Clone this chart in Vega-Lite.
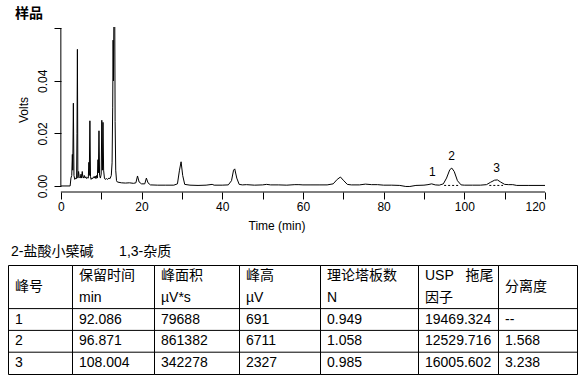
{
"$schema": "https://vega.github.io/schema/vega-lite/v6.json",
"padding": {"left": 7, "top": 7, "right": 4, "bottom": 4},
"config": {
  "font": "Liberation Sans, Noto Sans CJK SC",
  "view": {"stroke": null},
  "text": {"color": "black", "font": "Liberation Sans, Noto Sans CJK SC"},
  "title": {"color": "black", "font": "Liberation Sans, Noto Sans CJK SC"},
  "axis": {"labelColor": "black", "titleColor": "black", "tickColor": "black", "domainColor": "black", "labelFont": "Liberation Sans", "titleFont": "Liberation Sans", "titleFontWeight": "normal", "grid": false}
},
"datasets": {
  "trace": [
    {"t":0,"v":0.0},{"t":2.3,"v":0.0},{"t":2.5,"v":0.003},{"t":2.7,"v":0.004},{"t":2.85,"v":0.012},{"t":2.95,"v":0.006},{"t":3.1,"v":0.0315},{"t":3.25,"v":0.004},{"t":3.45,"v":0.0025},{"t":3.7,"v":0.003},{"t":3.9,"v":0.0028},{"t":4.0,"v":0.02},{"t":4.1,"v":0.052},{"t":4.22,"v":0.003},{"t":4.4,"v":0.0055},{"t":4.55,"v":0.0035},{"t":4.8,"v":0.003},{"t":5.0,"v":0.0045},{"t":5.15,"v":0.003},{"t":5.3,"v":0.0055},{"t":5.45,"v":0.0035},{"t":5.6,"v":0.003},{"t":5.8,"v":0.004},{"t":6.0,"v":0.003},{"t":6.2,"v":0.0035},{"t":6.4,"v":0.0028},{"t":6.6,"v":0.0032},{"t":6.8,"v":0.003},{"t":6.95,"v":0.009},{"t":7.05,"v":0.004},{"t":7.2,"v":0.0248},{"t":7.35,"v":0.0035},{"t":7.5,"v":0.0025},{"t":7.7,"v":0.003},{"t":7.9,"v":0.0028},{"t":8.1,"v":0.0035},{"t":8.3,"v":0.003},{"t":8.5,"v":0.0038},{"t":8.7,"v":0.0028},{"t":8.9,"v":0.004},{"t":9.05,"v":0.003},{"t":9.2,"v":0.01},{"t":9.3,"v":0.005},{"t":9.45,"v":0.021},{"t":9.6,"v":0.004},{"t":9.8,"v":0.003},{"t":10.0,"v":0.0045},{"t":10.15,"v":0.025},{"t":10.3,"v":0.006},{"t":10.45,"v":0.0242},{"t":10.6,"v":0.006},{"t":10.8,"v":0.003},{"t":11.0,"v":0.0025},{"t":11.3,"v":0.0028},{"t":11.6,"v":0.0025},{"t":11.9,"v":0.003},{"t":12.2,"v":0.0028},{"t":12.5,"v":0.004},{"t":12.7,"v":0.0088},{"t":12.85,"v":0.03},{"t":12.95,"v":0.0555},{"t":13.05,"v":0.04},{"t":13.2,"v":0.08},{"t":13.35,"v":0.07},{"t":13.45,"v":0.0245},{"t":13.6,"v":0.006},{"t":13.8,"v":0.002},{"t":14.0,"v":0.0015},{"t":15,"v":0.0012},{"t":16,"v":0.0011},{"t":17,"v":0.0012},{"t":18,"v":0.001},{"t":18.6,"v":0.0012},{"t":19.0,"v":0.0038},{"t":19.4,"v":0.0015},{"t":20.0,"v":0.0008},{"t":20.8,"v":0.0008},{"t":21.2,"v":0.003},{"t":21.6,"v":0.0012},{"t":22.2,"v":0.0004},{"t":24,"v":0.0003},{"t":26,"v":0.0003},{"t":28,"v":0.0003},{"t":28.9,"v":0.0008},{"t":29.4,"v":0.006},{"t":29.8,"v":0.0092},{"t":30.2,"v":0.004},{"t":30.7,"v":0.0006},{"t":32,"v":0.0003},{"t":34,"v":0.0002},{"t":36,"v":0.0003},{"t":37.5,"v":0.0006},{"t":38,"v":0.0003},{"t":40,"v":0.0003},{"t":41.5,"v":0.0004},{"t":42.3,"v":0.002},{"t":42.8,"v":0.006},{"t":43.1,"v":0.0065},{"t":43.6,"v":0.003},{"t":44.2,"v":0.0006},{"t":45,"v":0.0004},{"t":46,"v":0.0005},{"t":48,"v":0.0003},{"t":50,"v":0.0004},{"t":51,"v":0.0006},{"t":52,"v":0.0004},{"t":54,"v":0.0004},{"t":56,"v":0.0003},{"t":58,"v":0.0005},{"t":59,"v":0.0005},{"t":60,"v":0.0004},{"t":62,"v":0.0004},{"t":64,"v":0.0004},{"t":66,"v":0.0004},{"t":67.5,"v":0.0008},{"t":68.5,"v":0.0025},{"t":69.3,"v":0.0034},{"t":70,"v":0.0022},{"t":71,"v":0.0006},{"t":72,"v":0.0004},{"t":74,"v":0.0004},{"t":75.5,"v":0.0007},{"t":77,"v":0.0005},{"t":78.5,"v":0.0005},{"t":80,"v":0.0003},{"t":82,"v":0.0003},{"t":84,"v":0.0002},{"t":85.5,"v":-0.0002},{"t":86.5,"v":-0.0002},{"t":88,"v":0.0002},{"t":90,"v":0.0003},{"t":91,"v":0.0005},{"t":91.9,"v":0.0008},{"t":92.8,"v":0.0004},{"t":93.8,"v":0.0003},{"t":94.8,"v":0.0008},{"t":95.6,"v":0.003},{"t":96.4,"v":0.0062},{"t":96.9,"v":0.0068},{"t":97.5,"v":0.0055},{"t":98.3,"v":0.002},{"t":99.2,"v":0.0004},{"t":100,"v":0.0003},{"t":102,"v":0.0003},{"t":104,"v":0.0003},{"t":105.5,"v":0.0005},{"t":106.5,"v":0.0014},{"t":107.5,"v":0.0022},{"t":108.2,"v":0.0023},{"t":109,"v":0.0015},{"t":110,"v":0.0006},{"t":111,"v":0.0005},{"t":112,"v":0.0005},{"t":113,"v":0.0002},{"t":116,"v":0.0002},{"t":120,"v":0.0002}
  ],
  "peaks": [
    {"t": 92.086, "v": 0.0007, "n": "1"},
    {"t": 96.871, "v": 0.0067, "n": "2"},
    {"t": 108.004, "v": 0.0023, "n": "3"}
  ],
  "base": [
    {"t1": 95.0, "t2": 98.7},
    {"t1": 106.2, "t2": 109.6}
  ],
  "cells": [
    {"c": 1, "r": "h1", "s": "峰号", "m": 1},
    {"c": 1, "r": "r1", "s": "1"}, {"c": 1, "r": "r2", "s": "2"}, {"c": 1, "r": "r3", "s": "3"},
    {"c": 2, "r": "h1", "s": "保留时间"}, {"c": 2, "r": "h2", "s": "min"},
    {"c": 2, "r": "r1", "s": "92.086"}, {"c": 2, "r": "r2", "s": "96.871"}, {"c": 2, "r": "r3", "s": "108.004"},
    {"c": 3, "r": "h1", "s": "峰面积"}, {"c": 3, "r": "h2", "s": "µV*s"},
    {"c": 3, "r": "r1", "s": "79688"}, {"c": 3, "r": "r2", "s": "861382"}, {"c": 3, "r": "r3", "s": "342278"},
    {"c": 4, "r": "h1", "s": "峰高"}, {"c": 4, "r": "h2", "s": "µV"},
    {"c": 4, "r": "r1", "s": "691"}, {"c": 4, "r": "r2", "s": "6711"}, {"c": 4, "r": "r3", "s": "2327"},
    {"c": 5, "r": "h1", "s": "理论塔板数"}, {"c": 5, "r": "h2", "s": "N"},
    {"c": 5, "r": "r1", "s": "0.949"}, {"c": 5, "r": "r2", "s": "1.058"}, {"c": 5, "r": "r3", "s": "0.985"},
    {"c": 6, "r": "h1", "s": "USP\u00a0\u00a0\u00a0拖尾"}, {"c": 6, "r": "h2", "s": "因子"},
    {"c": 6, "r": "r1", "s": "19469.324"}, {"c": 6, "r": "r2", "s": "12529.716"}, {"c": 6, "r": "r3", "s": "16005.602"},
    {"c": 7, "r": "h1", "s": "分离度", "m": 1},
    {"c": 7, "r": "r1", "s": "--"}, {"c": 7, "r": "r2", "s": "1.568"}, {"c": 7, "r": "r3", "s": "3.238"}
  ]
},
"vconcat": [
  {
    "width": 537, "height": 165,
    "title": {"text": "样品", "anchor": "start", "frame": "group", "dx": 7, "fontSize": 14, "fontWeight": "bold", "offset": 6},
    "layer": [
      {
        "data": {"name": "trace"},
        "mark": {"type": "line", "color": "black", "strokeWidth": 1, "clip": true},
        "encoding": {
          "x": {"field": "t", "type": "quantitative", "scale": {"domain": [-13.1, 120], "nice": false, "zero": false},
                "axis": {"values": [0,10,20,30,40,50,60,70,80,90,100,110,120], "labelExpr": "datum.value % 20 === 0 ? datum.label : ''", "format": "d", "domain": false, "tickSize": 7, "labelPadding": 2, "labelFontSize": 12, "title": "Time (min)", "titleFontSize": 12, "titlePadding": 8}},
          "y": {"field": "v", "type": "quantitative", "scale": {"domain": [-0.0023, 0.0605], "nice": false, "zero": false},
                "axis": {"values": [0,0.01,0.02,0.03,0.04,0.05,0.06], "format": ".2f", "labelExpr": "round(datum.value*100) % 2 === 0 && datum.value < 0.05 ? datum.label : ''", "offset": -53, "domain": false, "tickSize": 7, "labelAngle": 270, "labelAlign": "center", "labelBaseline": "bottom", "labelPadding": 5, "labelFontSize": 12, "title": "Volts", "titleFontSize": 12, "titlePadding": 6}}
        }
      },
      {
        "data": {"values": [{}]},
        "mark": {"type": "rule", "color": "black", "strokeWidth": 1},
        "encoding": {"x": {"datum": 0, "type": "quantitative"}, "x2": {"datum": 120}, "y": {"datum": -0.0023, "type": "quantitative"}}
      },
      {
        "data": {"values": [{}]},
        "mark": {"type": "rule", "color": "black", "strokeWidth": 1},
        "encoding": {"x": {"datum": 0, "type": "quantitative"}, "y": {"datum": 0, "type": "quantitative"}, "y2": {"datum": 0.06}}
      },
      {
        "data": {"name": "base"},
        "mark": {"type": "rule", "color": "black", "strokeWidth": 1, "strokeDash": [2, 2]},
        "encoding": {"x": {"field": "t1", "type": "quantitative"}, "x2": {"field": "t2"}, "y": {"datum": 0.0002, "type": "quantitative"}}
      },
      {
        "data": {"name": "peaks"},
        "mark": {"type": "text", "fontSize": 12, "baseline": "middle", "dy": -12, "color": "black"},
        "encoding": {"x": {"field": "t", "type": "quantitative"}, "y": {"field": "v", "type": "quantitative"}, "text": {"field": "n"}}
      }
    ]
  },
  {
    "title": {"text": "2-盐酸小檗碱　\u00a0\u00a0\u00a01,3-杂质", "anchor": "start", "frame": "group", "dx": 3, "fontSize": 14, "fontWeight": "normal", "offset": 6},
    "bounds": "flush",
    "spacing": 0,
    "hconcat": [
      {"width": 64, "height": 109, "view": {"stroke": "black"}, "data": {"name": "cells"}, "transform": [{"filter": "datum.c === 1"}],
       "layer": [
        {"transform": [{"filter": "datum.m !== 1"}], "mark": {"type": "text", "align": "left", "baseline": "middle", "dx": 7, "fontSize": 14},
         "encoding": {"x": {"field": "c", "type": "nominal", "axis": null, "scale": {"type": "band", "paddingInner": 0, "paddingOuter": 0}, "bandPosition": 0},
                      "y": {"field": "r", "type": "nominal", "axis": null, "scale": {"type": "band", "domain": ["h1","h2","r1","r2","r3"], "paddingInner": 0, "paddingOuter": 0}}, "text": {"field": "s"}}},
        {"transform": [{"filter": "datum.m === 1"}], "mark": {"type": "text", "align": "left", "baseline": "middle", "dx": 7, "fontSize": 14},
         "encoding": {"x": {"field": "c", "type": "nominal", "axis": null, "scale": {"type": "band", "paddingInner": 0, "paddingOuter": 0}, "bandPosition": 0},
                      "y": {"field": "r", "type": "nominal", "axis": null, "bandPosition": 1, "scale": {"type": "band", "domain": ["h1","h2","r1","r2","r3"], "paddingInner": 0, "paddingOuter": 0}}, "text": {"field": "s"}}},
        {"transform": [{"filter": "datum.r === 'r1' || datum.r === 'r2' || datum.r === 'r3'"}], "mark": {"type": "rule", "color": "black", "strokeWidth": 1},
         "encoding": {"y": {"field": "r", "type": "nominal", "axis": null, "bandPosition": 0, "scale": {"type": "band", "domain": ["h1","h2","r1","r2","r3"], "paddingInner": 0, "paddingOuter": 0}}}}
       ]},
      {"width": 82, "height": 109, "view": {"stroke": "black"}, "data": {"name": "cells"}, "transform": [{"filter": "datum.c === 2"}],
       "layer": [
        {"transform": [{"filter": "datum.m !== 1"}], "mark": {"type": "text", "align": "left", "baseline": "middle", "dx": 7, "fontSize": 14},
         "encoding": {"x": {"field": "c", "type": "nominal", "axis": null, "scale": {"type": "band", "paddingInner": 0, "paddingOuter": 0}, "bandPosition": 0},
                      "y": {"field": "r", "type": "nominal", "axis": null, "scale": {"type": "band", "domain": ["h1","h2","r1","r2","r3"], "paddingInner": 0, "paddingOuter": 0}}, "text": {"field": "s"}}},
        {"transform": [{"filter": "datum.r === 'r1' || datum.r === 'r2' || datum.r === 'r3'"}], "mark": {"type": "rule", "color": "black", "strokeWidth": 1},
         "encoding": {"y": {"field": "r", "type": "nominal", "axis": null, "bandPosition": 0, "scale": {"type": "band", "domain": ["h1","h2","r1","r2","r3"], "paddingInner": 0, "paddingOuter": 0}}}}
       ]},
      {"width": 85, "height": 109, "view": {"stroke": "black"}, "data": {"name": "cells"}, "transform": [{"filter": "datum.c === 3"}],
       "layer": [
        {"transform": [{"filter": "datum.m !== 1"}], "mark": {"type": "text", "align": "left", "baseline": "middle", "dx": 7, "fontSize": 14},
         "encoding": {"x": {"field": "c", "type": "nominal", "axis": null, "scale": {"type": "band", "paddingInner": 0, "paddingOuter": 0}, "bandPosition": 0},
                      "y": {"field": "r", "type": "nominal", "axis": null, "scale": {"type": "band", "domain": ["h1","h2","r1","r2","r3"], "paddingInner": 0, "paddingOuter": 0}}, "text": {"field": "s"}}},
        {"transform": [{"filter": "datum.r === 'r1' || datum.r === 'r2' || datum.r === 'r3'"}], "mark": {"type": "rule", "color": "black", "strokeWidth": 1},
         "encoding": {"y": {"field": "r", "type": "nominal", "axis": null, "bandPosition": 0, "scale": {"type": "band", "domain": ["h1","h2","r1","r2","r3"], "paddingInner": 0, "paddingOuter": 0}}}}
       ]},
      {"width": 81, "height": 109, "view": {"stroke": "black"}, "data": {"name": "cells"}, "transform": [{"filter": "datum.c === 4"}],
       "layer": [
        {"transform": [{"filter": "datum.m !== 1"}], "mark": {"type": "text", "align": "left", "baseline": "middle", "dx": 7, "fontSize": 14},
         "encoding": {"x": {"field": "c", "type": "nominal", "axis": null, "scale": {"type": "band", "paddingInner": 0, "paddingOuter": 0}, "bandPosition": 0},
                      "y": {"field": "r", "type": "nominal", "axis": null, "scale": {"type": "band", "domain": ["h1","h2","r1","r2","r3"], "paddingInner": 0, "paddingOuter": 0}}, "text": {"field": "s"}}},
        {"transform": [{"filter": "datum.r === 'r1' || datum.r === 'r2' || datum.r === 'r3'"}], "mark": {"type": "rule", "color": "black", "strokeWidth": 1},
         "encoding": {"y": {"field": "r", "type": "nominal", "axis": null, "bandPosition": 0, "scale": {"type": "band", "domain": ["h1","h2","r1","r2","r3"], "paddingInner": 0, "paddingOuter": 0}}}}
       ]},
      {"width": 98, "height": 109, "view": {"stroke": "black"}, "data": {"name": "cells"}, "transform": [{"filter": "datum.c === 5"}],
       "layer": [
        {"transform": [{"filter": "datum.m !== 1"}], "mark": {"type": "text", "align": "left", "baseline": "middle", "dx": 7, "fontSize": 14},
         "encoding": {"x": {"field": "c", "type": "nominal", "axis": null, "scale": {"type": "band", "paddingInner": 0, "paddingOuter": 0}, "bandPosition": 0},
                      "y": {"field": "r", "type": "nominal", "axis": null, "scale": {"type": "band", "domain": ["h1","h2","r1","r2","r3"], "paddingInner": 0, "paddingOuter": 0}}, "text": {"field": "s"}}},
        {"transform": [{"filter": "datum.r === 'r1' || datum.r === 'r2' || datum.r === 'r3'"}], "mark": {"type": "rule", "color": "black", "strokeWidth": 1},
         "encoding": {"y": {"field": "r", "type": "nominal", "axis": null, "bandPosition": 0, "scale": {"type": "band", "domain": ["h1","h2","r1","r2","r3"], "paddingInner": 0, "paddingOuter": 0}}}}
       ]},
      {"width": 80, "height": 109, "view": {"stroke": "black"}, "data": {"name": "cells"}, "transform": [{"filter": "datum.c === 6"}],
       "layer": [
        {"transform": [{"filter": "datum.m !== 1"}], "mark": {"type": "text", "align": "left", "baseline": "middle", "dx": 7, "fontSize": 14},
         "encoding": {"x": {"field": "c", "type": "nominal", "axis": null, "scale": {"type": "band", "paddingInner": 0, "paddingOuter": 0}, "bandPosition": 0},
                      "y": {"field": "r", "type": "nominal", "axis": null, "scale": {"type": "band", "domain": ["h1","h2","r1","r2","r3"], "paddingInner": 0, "paddingOuter": 0}}, "text": {"field": "s"}}},
        {"transform": [{"filter": "datum.r === 'r1' || datum.r === 'r2' || datum.r === 'r3'"}], "mark": {"type": "rule", "color": "black", "strokeWidth": 1},
         "encoding": {"y": {"field": "r", "type": "nominal", "axis": null, "bandPosition": 0, "scale": {"type": "band", "domain": ["h1","h2","r1","r2","r3"], "paddingInner": 0, "paddingOuter": 0}}}}
       ]},
      {"width": 79, "height": 109, "view": {"stroke": "black"}, "data": {"name": "cells"}, "transform": [{"filter": "datum.c === 7"}],
       "layer": [
        {"transform": [{"filter": "datum.m !== 1"}], "mark": {"type": "text", "align": "left", "baseline": "middle", "dx": 7, "fontSize": 14},
         "encoding": {"x": {"field": "c", "type": "nominal", "axis": null, "scale": {"type": "band", "paddingInner": 0, "paddingOuter": 0}, "bandPosition": 0},
                      "y": {"field": "r", "type": "nominal", "axis": null, "scale": {"type": "band", "domain": ["h1","h2","r1","r2","r3"], "paddingInner": 0, "paddingOuter": 0}}, "text": {"field": "s"}}},
        {"transform": [{"filter": "datum.m === 1"}], "mark": {"type": "text", "align": "left", "baseline": "middle", "dx": 7, "fontSize": 14},
         "encoding": {"x": {"field": "c", "type": "nominal", "axis": null, "scale": {"type": "band", "paddingInner": 0, "paddingOuter": 0}, "bandPosition": 0},
                      "y": {"field": "r", "type": "nominal", "axis": null, "bandPosition": 1, "scale": {"type": "band", "domain": ["h1","h2","r1","r2","r3"], "paddingInner": 0, "paddingOuter": 0}}, "text": {"field": "s"}}},
        {"transform": [{"filter": "datum.r === 'r1' || datum.r === 'r2' || datum.r === 'r3'"}], "mark": {"type": "rule", "color": "black", "strokeWidth": 1},
         "encoding": {"y": {"field": "r", "type": "nominal", "axis": null, "bandPosition": 0, "scale": {"type": "band", "domain": ["h1","h2","r1","r2","r3"], "paddingInner": 0, "paddingOuter": 0}}}}
       ]}
    ]
  }
],
"spacing": 13
}
